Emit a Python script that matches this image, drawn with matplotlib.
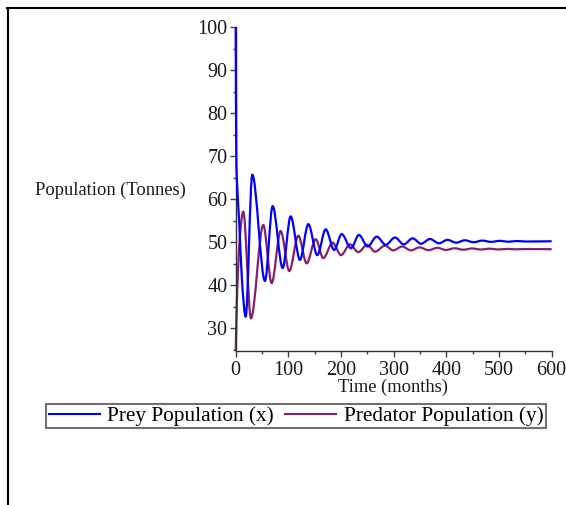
import matplotlib
matplotlib.use('Agg')
import matplotlib.pyplot as plt
from matplotlib.path import Path
from matplotlib.patches import PathPatch
from matplotlib.lines import Line2D
from matplotlib.ticker import MultipleLocator

plt.rcParams['font.family'] = ['Liberation Serif', 'DejaVu Serif']

# turning points (time in months, population in tonnes)
prey_t = [0, 1, 3, 7, 12, 19, 31.5, 55.6, 70.2, 89.2, 104.4, 122, 137.9, 155, 170.9,
          187, 201.3, 219, 234, 250.6, 267.7, 285, 302.5, 319, 336, 352, 369, 386,
          402, 419, 435, 452, 468, 485, 501, 518, 534, 551, 600]
prey_v = [100, 72, 63, 54, 41, 32.7, 65.7, 41.0, 58.4, 44.0, 56.0, 45.9, 54.2, 47.0, 53.0,
          48.2, 51.9, 48.6, 51.7, 49.0, 51.3, 49.4, 51.1, 49.5, 50.9, 49.65, 50.75, 49.75,
          50.55, 49.9, 50.45, 50.0, 50.38, 50.08, 50.32, 50.12, 50.28, 50.16, 50.22]

pred_t = [0, 3, 8, 14.4, 29, 52.4, 68.3, 85.4, 101.8, 118.9, 134.8, 151.9, 166.3, 184.2,
          200, 217, 232.8, 249.9, 264.5, 283.5, 299, 316, 333, 349, 366, 383, 399, 416,
          432, 449, 466, 482, 499, 516, 532, 549, 600]
pred_v = [24.7, 39, 51.3, 57.1, 32.3, 54.0, 40.5, 52.6, 43.3, 51.5, 45.1, 50.7, 46.3, 49.9,
          47.0, 49.5, 47.7, 49.4, 47.8, 49.2, 48.1, 49.0, 48.1, 48.8, 48.15, 48.7, 48.2, 48.6,
          48.25, 48.55, 48.3, 48.5, 48.32, 48.45, 48.35, 48.42, 48.38]

prey_color = '#0000ff'
pred_color = '#85206f'


def smooth_path(t, v):
    # cubic bezier through the read points, flat at the turning points
    n = len(t)
    slopes = []
    for i in range(n):
        if i == 0:
            s = (v[1] - v[0]) / (t[1] - t[0])
        elif i == n - 1:
            s = 0.0
        elif (v[i] - v[i - 1]) * (v[i + 1] - v[i]) <= 0:
            s = 0.0
        else:
            s = (v[i + 1] - v[i - 1]) / (t[i + 1] - t[i - 1])
        slopes.append(s)
    verts = [(t[0], v[0])]
    codes = [Path.MOVETO]
    for i in range(n - 1):
        dt = t[i + 1] - t[i]
        verts += [(t[i] + dt / 3, v[i] + slopes[i] * dt / 3),
                  (t[i + 1] - dt / 3, v[i + 1] - slopes[i + 1] * dt / 3),
                  (t[i + 1], v[i + 1])]
        codes += [Path.CURVE4] * 3
    return Path(verts, codes)


fig = plt.figure(figsize=(5.66, 5.05), dpi=100)
ax = fig.add_axes([0.4164, 0.3050, 0.5583, 0.6409])

ax.add_patch(PathPatch(smooth_path(prey_t, prey_v), facecolor='none',
                       edgecolor=prey_color, lw=1.6, clip_on=False, zorder=3))
ax.add_patch(PathPatch(smooth_path(pred_t, pred_v), facecolor='none',
                       edgecolor=pred_color, lw=1.6, clip_on=False, zorder=2))

ax.set_xlim(0, 600)
ax.set_ylim(24.7, 100)
for side in ['top', 'right']:
    ax.spines[side].set_visible(False)
for side in ['left', 'bottom']:
    ax.spines[side].set_color('#303030')
    ax.spines[side].set_linewidth(1.0)

ax.xaxis.set_major_locator(MultipleLocator(100))
ax.xaxis.set_minor_locator(MultipleLocator(50))
ax.yaxis.set_major_locator(MultipleLocator(10))
ax.yaxis.set_minor_locator(MultipleLocator(5))
ax.tick_params(which='major', direction='out', length=4, width=1, color='#404040',
               labelsize=14.5, labelcolor='#1a1a1a', pad=2)
ax.tick_params(axis='x', which='major', pad=3.5)
ax.tick_params(which='minor', direction='out', length=2.5, width=1, color='#404040')
ax.set_yticks([30, 40, 50, 60, 70, 80, 90, 100])

fig.text(0.062, 0.624, 'Population (Tonnes)', fontsize=13.3, color='#1a1a1a',
         ha='left', va='center')
fig.text(0.695, 0.232, 'Time (months)', fontsize=13.3, color='#1a1a1a',
         ha='center', va='center')

handles = [Line2D([], [], color=prey_color, lw=1.5),
           Line2D([], [], color=pred_color, lw=1.5)]
leg = fig.legend(handles, ['Prey Population (x)', 'Predator Population (y)'],
                 loc='center', bbox_to_anchor=(0.523, 0.176), ncol=2,
                 fontsize=15.3, frameon=True, fancybox=False, framealpha=1,
                 edgecolor='#707070', borderpad=0.1, handlelength=2.4,
                 handletextpad=0.35, columnspacing=0.55, borderaxespad=0)
leg.get_frame().set_linewidth(1.5)

# screenshot frame edges
fig.add_artist(Line2D([0.0124, 1.0], [0.9836, 0.9836], transform=fig.transFigure,
                      color='black', lw=1.5))
fig.add_artist(Line2D([0.0141, 0.0141], [0.0, 0.9836], transform=fig.transFigure,
                      color='black', lw=1.5))

fig.savefig('out.png', dpi=100)
